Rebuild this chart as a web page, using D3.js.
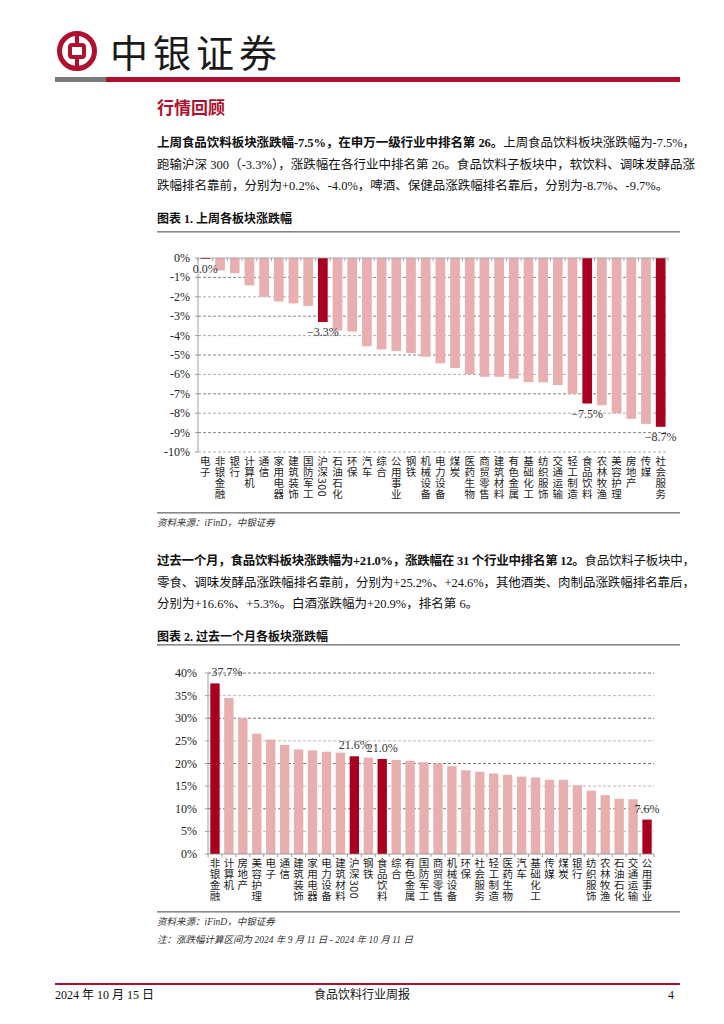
<!DOCTYPE html>
<html><head><meta charset="utf-8">
<script src="https://cdn.jsdelivr.net/npm/d3@7"></script>
<style>
html,body{margin:0;padding:0;background:#fff;}
svg{display:block;}
.vt{writing-mode:vertical-rl;}
</style></head>
<body>
<svg id="page" width="724" height="1024"></svg>
<script>
// ---------- data ----------
const cats1 = ["电子","非银金融","银行","计算机","通信","家用电器","建筑装饰","国防军工","沪深300","石油石化","环保","汽车","综合","公用事业","钢铁","机械设备","电力设备","煤炭","医药生物","商贸零售","建筑材料","有色金属","基础化工","纺织服饰","交通运输","轻工制造","食品饮料","农林牧渔","美容护理","房地产","传媒","社会服务"];
const vals1 = [-0.03,-0.64,-0.78,-1.41,-2.0,-2.24,-2.34,-2.47,-3.3,-3.74,-3.79,-4.55,-4.71,-4.79,-4.9,-5.09,-5.43,-5.67,-5.98,-6.12,-6.12,-6.22,-6.4,-6.41,-6.55,-7.0,-7.5,-7.59,-8.0,-8.29,-8.55,-8.7];
const hl1 = ["电子","沪深300","食品饮料","社会服务"];
const ticks1 = [0,-1,-2,-3,-4,-5,-6,-7,-8,-9,-10];

const cats2 = ["非银金融","计算机","房地产","美容护理","电子","通信","建筑装饰","家用电器","电力设备","建筑材料","沪深300","钢铁","食品饮料","综合","有色金属","国防军工","商贸零售","机械设备","环保","社会服务","轻工制造","医药生物","汽车","基础化工","传媒","煤炭","银行","纺织服饰","农林牧渔","石油石化","交通运输","公用事业"];
const vals2 = [37.7,34.5,30.0,26.6,25.3,24.1,23.1,22.9,22.6,22.4,21.6,21.3,21.0,20.8,20.6,20.3,20.0,19.4,18.5,18.2,17.8,17.5,17.1,16.9,16.4,16.4,15.2,14.0,13.0,12.2,12.1,7.6];
const hl2 = ["非银金融","沪深300","食品饮料","公用事业"];
const ticks2 = [0,5,10,15,20,25,30,35,40];

// ---------- styles ----------
const RED = "#a8001f", PINK = "#e9afaf", BRAND = "#b0102f";
const FONT = "'Liberation Serif','Noto Sans CJK SC',serif";
const CJK = "'Noto Sans CJK SC',sans-serif";

const svg = d3.select("#page");

// ---------- header ----------
const logo = svg.append("g").attr("fill","none").attr("stroke",BRAND);
logo.append("circle").attr("cx",77).attr("cy",51).attr("r",17.5).attr("stroke-width",5);
logo.append("rect").attr("x",70).attr("y",45).attr("width",14).attr("height",12).attr("rx",2).attr("stroke-width",4);
logo.append("line").attr("x1",77).attr("x2",77).attr("y1",34).attr("y2",45).attr("stroke-width",4);
logo.append("line").attr("x1",77).attr("x2",77).attr("y1",57).attr("y2",68).attr("stroke-width",4);

svg.append("text").attr("x",110).attr("y",67).attr("font-family",CJK).attr("font-size",38)
  .attr("letter-spacing",5).attr("fill","#1a1a1a").text("中银证券");
svg.append("rect").attr("x",55).attr("y",77).attr("width",51).attr("height",5).attr("fill","#7a7a7a");
svg.append("rect").attr("x",106).attr("y",77).attr("width",574).attr("height",5).attr("fill",BRAND);

svg.append("text").attr("x",157).attr("y",114).attr("font-family",CJK).attr("font-size",17)
  .attr("font-weight",700).attr("fill",BRAND).text("行情回顾");

function para(lines, y0, lh) {
  lines.forEach((ln, i) => {
    const t = svg.append("text").attr("x",157).attr("y",y0+i*lh)
      .attr("font-family",FONT).attr("font-size",12.5).attr("fill","#111");
    ln.parts.forEach(p => t.append("tspan").attr("font-weight",p.b?700:400).text(p.t));
    if (ln.just) t.attr("textLength",538).attr("lengthAdjust","spacing");
  });
}
para([
  {just:true, parts:[{b:1,t:"上周食品饮料板块涨跌幅-7.5%，在申万一级行业中排名第 26。"},{t:"上周食品饮料板块涨跌幅为-7.5%，"}]},
  {just:true, parts:[{t:"跑输沪深 300（-3.3%），涨跌幅在各行业中排名第 26。食品饮料子板块中，软饮料、调味发酵品涨"}]},
  {parts:[{t:"跌幅排名靠前，分别为+0.2%、-4.0%，啤酒、保健品涨跌幅排名靠后，分别为-8.7%、-9.7%。"}]}
], 147, 21.5);

para([
  {just:true, parts:[{b:1,t:"过去一个月，食品饮料板块涨跌幅为+21.0%，涨跌幅在 31 个行业中排名第 12。"},{t:"食品饮料子板块中，"}]},
  {just:true, parts:[{t:"零食、调味发酵品涨跌幅排名靠前，分别为+25.2%、+24.6%，其他酒类、肉制品涨跌幅排名靠后，"}]},
  {parts:[{t:"分别为+16.6%、+5.3%。白酒涨跌幅为+20.9%，排名第 6。"}]}
], 565, 21.5);

function chartTitle(txt, y, lineY) {
  svg.append("text").attr("x",157).attr("y",y).attr("font-family",FONT).attr("font-size",12)
    .attr("font-weight",700).attr("fill","#111").text(txt);
  svg.append("rect").attr("x",157).attr("y",lineY).attr("width",523).attr("height",1.6).attr("fill","#888");
}
chartTitle("图表 1. 上周各板块涨跌幅", 223, 231);
chartTitle("图表 2. 过去一个月各板块涨跌幅", 641, 644);

function source(y, lineY, note) {
  svg.append("rect").attr("x",157).attr("y",lineY).attr("width",523).attr("height",1.6).attr("fill","#888");
  svg.append("text").attr("x",157).attr("y",y).attr("font-family",FONT).attr("font-size",9.5)
    .attr("font-style","italic").attr("fill","#333").text("资料来源：iFinD，中银证券");
  if (note) svg.append("text").attr("x",157).attr("y",y+18).attr("font-family",FONT).attr("font-size",9.5)
    .attr("font-style","italic").attr("fill","#333").text(note);
}
source(526, 512, null);
source(925, 911, "注：涨跌幅计算区间为 2024 年 9 月 11 日 - 2024 年 10 月 11 日");

const fmt = v => { const s = d3.format(".1f")(v); return (s === "-0.0" ? "0.0" : s) + "%"; };

// ---------- chart 1 ----------
{
  const x = d3.scaleBand().domain(cats1).range([198, 668]).paddingInner(0.34).paddingOuter(0.17);
  const y = d3.scaleLinear().domain([-10, 0]).range([452, 258]);
  const g = svg.append("g");
  g.selectAll(".grid").data(ticks1.filter(t => t !== 0)).join("line")
    .attr("x1",198).attr("x2",668).attr("y1",d=>y(d)).attr("y2",d=>y(d))
    .attr("stroke",(d)=>d%2? "#666":"#999").attr("stroke-width",0.8).attr("stroke-dasharray","3,2");
  g.selectAll(".bar").data(cats1).join("rect")
    .attr("x",d=>x(d)).attr("width",x.bandwidth())
    .attr("y",y(0)).attr("height",(d,i)=>Math.max(1, y(vals1[i]) - y(0)))
    .attr("fill",d=>hl1.includes(d)?RED:PINK);
  g.append("line").attr("x1",198).attr("x2",668).attr("y1",y(0)).attr("y2",y(0)).attr("stroke","#999").attr("stroke-width",0.8);
  const step = x.step();
  g.selectAll(".xt").data(d3.range(cats1.length+1)).join("line")
    .attr("x1",i=>198+i*step).attr("x2",i=>198+i*step).attr("y1",y(0)).attr("y2",y(0)+3)
    .attr("stroke","#888").attr("stroke-width",0.8);
  g.append("line").attr("x1",198).attr("x2",198).attr("y1",y(0)).attr("y2",y(-10)).attr("stroke","#888").attr("stroke-width",0.8);
  g.selectAll(".yt").data(ticks1).join("line")
    .attr("x1",195).attr("x2",198).attr("y1",d=>y(d)).attr("y2",d=>y(d)).attr("stroke","#888").attr("stroke-width",0.8);
  g.selectAll(".yl").data(ticks1).join("text")
    .attr("x",190).attr("y",d=>y(d)+4).attr("text-anchor","end")
    .attr("font-family",FONT).attr("font-size",12).attr("fill","#222").text(d=>d+"%");
  g.selectAll(".xl").data(cats1).join("text").attr("class","vt")
    .attr("x",d=>x(d)+x.bandwidth()/2).attr("y",456)
    .attr("font-family",CJK).attr("font-size",10.5).attr("letter-spacing",0.5).attr("fill","#222").text(d=>d);
  g.selectAll(".dl").data(cats1.filter(c=>hl1.includes(c))).join("text")
    .attr("x",d=>x(d)+x.bandwidth()/2).attr("y",d=>y(vals1[cats1.indexOf(d)])+14)
    .attr("text-anchor","middle").attr("font-family",FONT).attr("font-size",12).attr("fill","#333")
    .text(d=>fmt(vals1[cats1.indexOf(d)]));
}

// ---------- chart 2 ----------
{
  const x = d3.scaleBand().domain(cats2).range([208, 654]).paddingInner(0.33).paddingOuter(0.165);
  const y = d3.scaleLinear().domain([0, 40]).range([854, 673]);
  const g = svg.append("g");
  g.selectAll(".grid").data(ticks2.filter(t => t !== 0)).join("line")
    .attr("x1",208).attr("x2",654).attr("y1",d=>y(d)).attr("y2",d=>y(d))
    .attr("stroke",d=>d%10===0?"#555":"#aaa").attr("stroke-width",0.8).attr("stroke-dasharray","3,2");
  g.selectAll(".bar").data(cats2).join("rect")
    .attr("x",d=>x(d)).attr("width",x.bandwidth())
    .attr("y",(d,i)=>y(vals2[i])).attr("height",(d,i)=>y(0)-y(vals2[i]))
    .attr("fill",d=>hl2.includes(d)?RED:PINK);
  g.append("line").attr("x1",208).attr("x2",654).attr("y1",y(0)).attr("y2",y(0)).attr("stroke","#888").attr("stroke-width",0.8);
  const step = x.step();
  g.selectAll(".xt").data(d3.range(cats2.length+1)).join("line")
    .attr("x1",i=>208+i*step).attr("x2",i=>208+i*step).attr("y1",y(0)).attr("y2",y(0)+3)
    .attr("stroke","#888").attr("stroke-width",0.8);
  g.append("line").attr("x1",208).attr("x2",208).attr("y1",y(0)).attr("y2",y(40)).attr("stroke","#888").attr("stroke-width",0.8);
  g.selectAll(".yt").data(ticks2).join("line")
    .attr("x1",205).attr("x2",208).attr("y1",d=>y(d)).attr("y2",d=>y(d)).attr("stroke","#888").attr("stroke-width",0.8);
  g.selectAll(".yl").data(ticks2).join("text")
    .attr("x",197).attr("y",d=>y(d)+4).attr("text-anchor","end")
    .attr("font-family",FONT).attr("font-size",12).attr("fill","#222").text(d=>d+"%");
  g.selectAll(".xl").data(cats2).join("text").attr("class","vt")
    .attr("x",d=>x(d)+x.bandwidth()/2).attr("y",858)
    .attr("font-family",CJK).attr("font-size",10.5).attr("letter-spacing",0.5).attr("fill","#222").text(d=>d);
  g.selectAll(".dl").data(cats2.filter(c=>hl2.includes(c))).join("text")
    .attr("x",(d,i)=> i===0 ? x(d)+x.bandwidth()/2+12 : x(d)+x.bandwidth()/2)
    .attr("y",d=>y(vals2[cats2.indexOf(d)])-7)
    .attr("text-anchor","middle").attr("font-family",FONT).attr("font-size",12).attr("fill","#333")
    .text(d=>fmt(vals2[cats2.indexOf(d)]));
}

// ---------- footer ----------
svg.append("rect").attr("x",55).attr("y",983).attr("width",625).attr("height",2).attr("fill",BRAND);
const ft = (x, anchor, t) => svg.append("text").attr("x",x).attr("y",999).attr("text-anchor",anchor)
  .attr("font-family",FONT).attr("font-size",12).attr("fill","#111").text(t);
ft(55,"start","2024 年 10 月 15 日");
ft(362,"middle","食品饮料行业周报");
ft(674,"end","4");
</script>
</body></html>
